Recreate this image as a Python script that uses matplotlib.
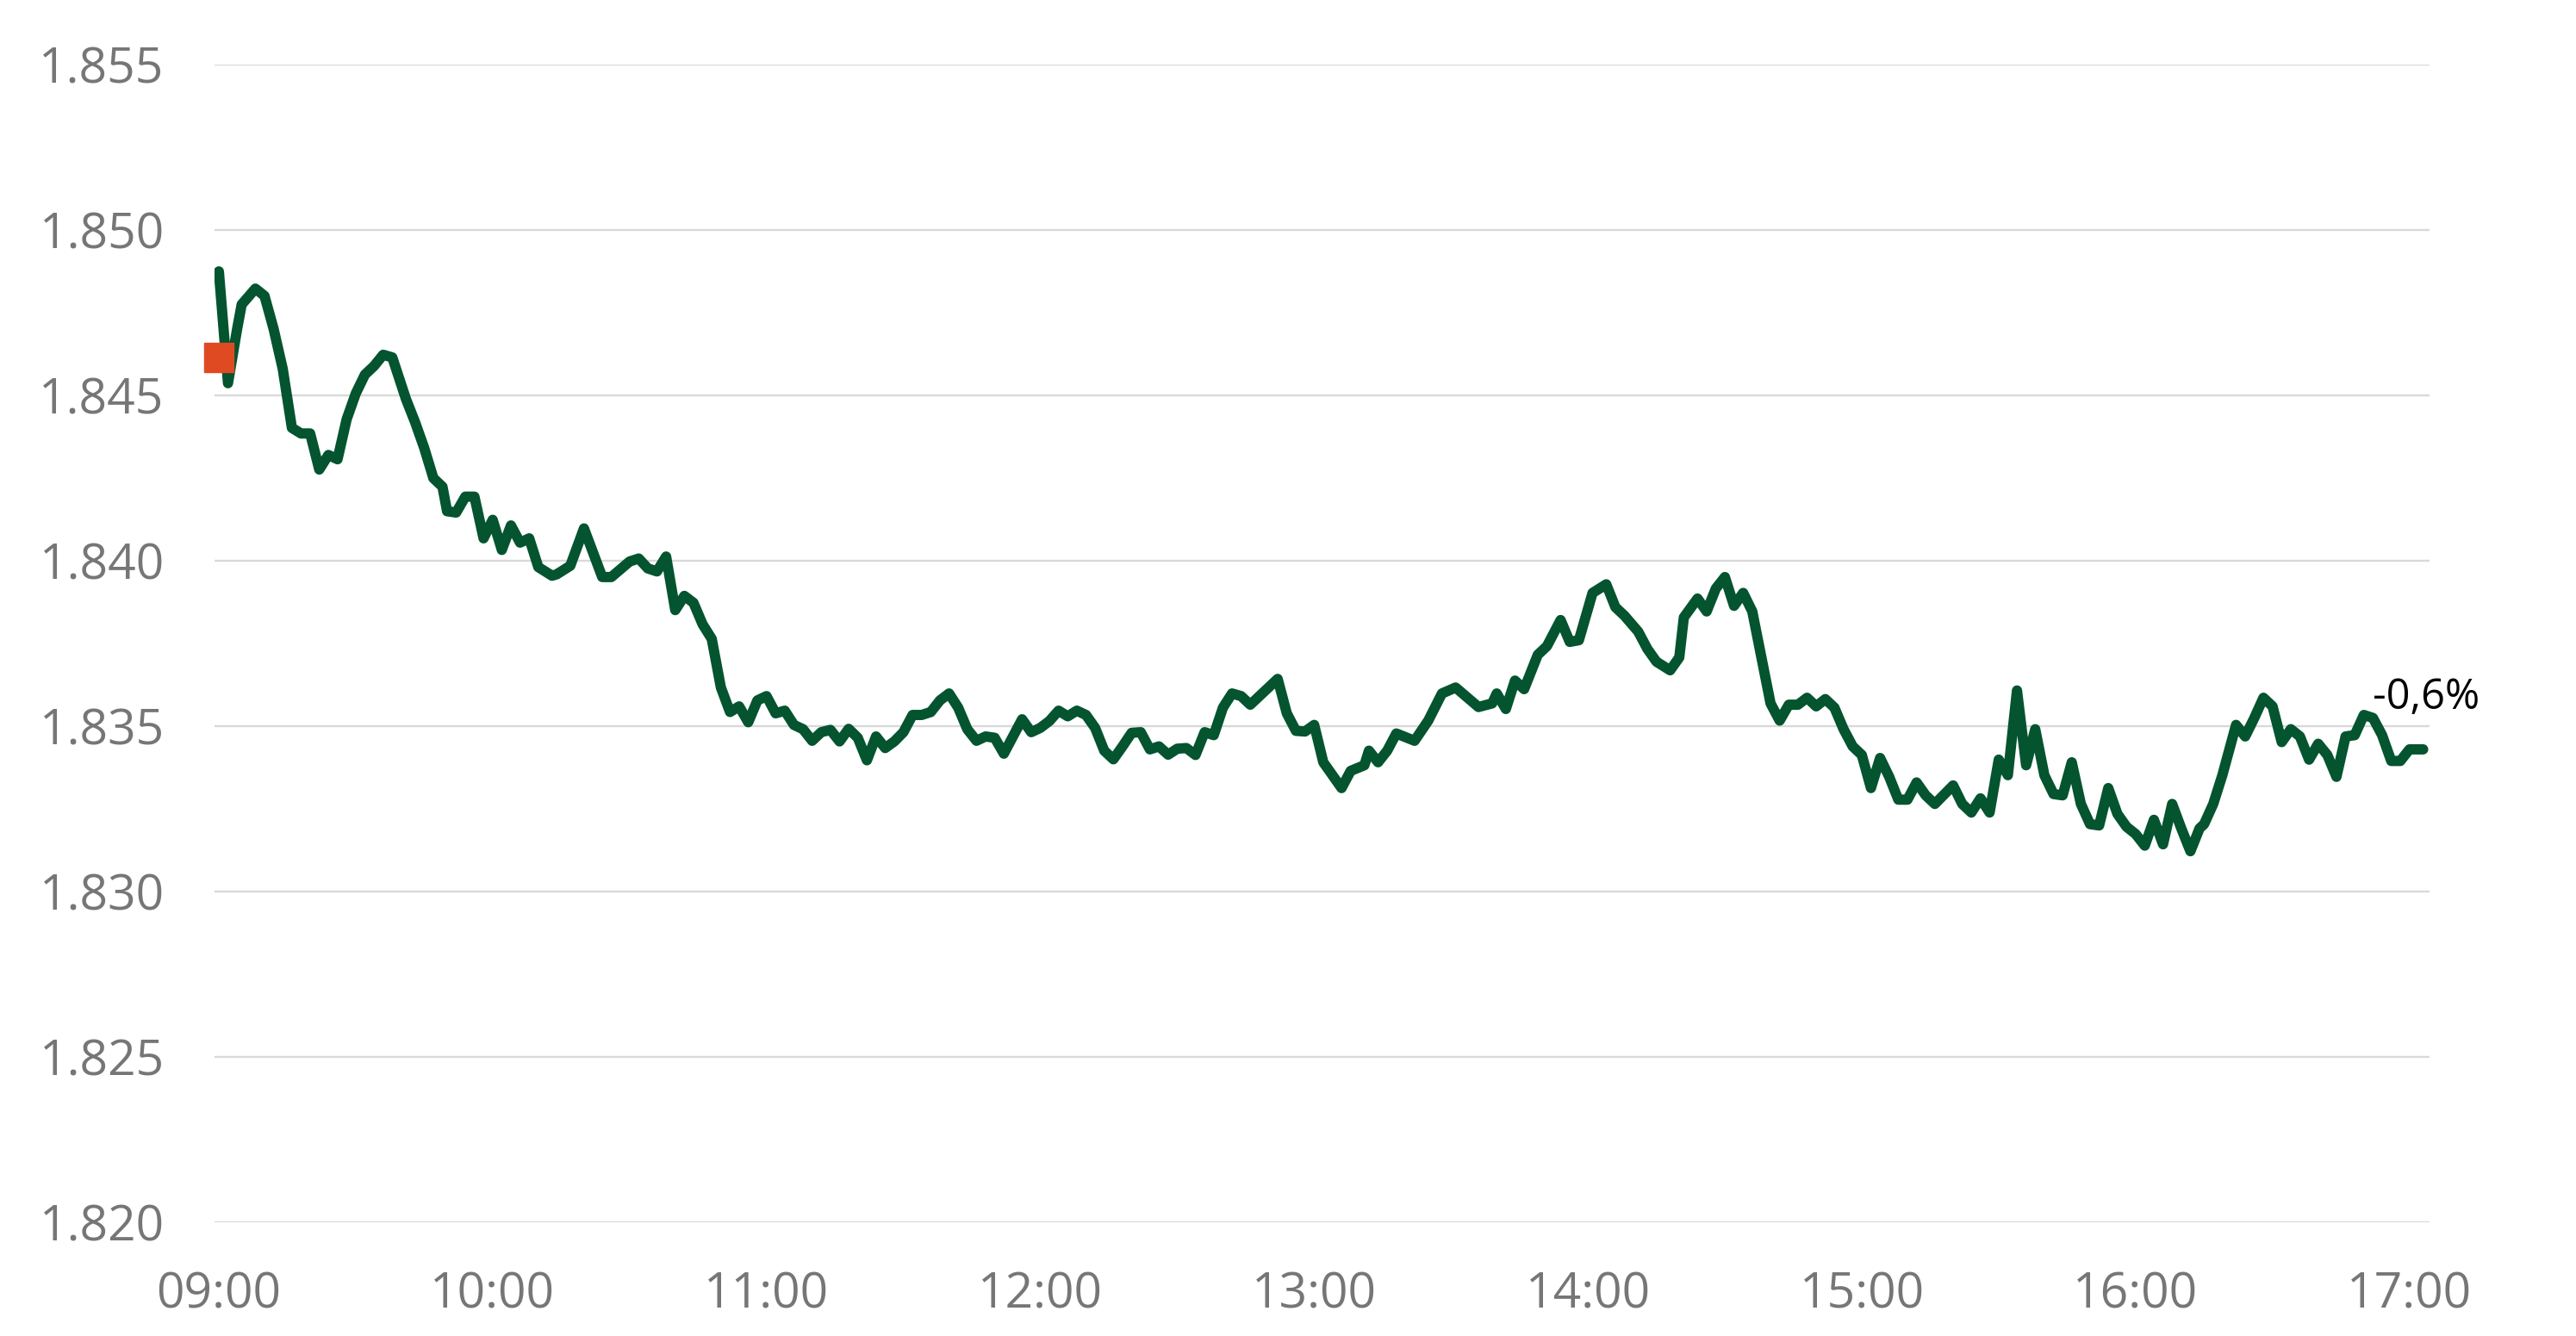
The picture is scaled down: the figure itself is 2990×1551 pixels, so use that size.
import matplotlib
matplotlib.use("Agg")
import matplotlib.pyplot as plt
import matplotlib.dates as mdates
import pandas as pd

# minutes after 09:00 and index level
minutes = [0, 2, 4, 5, 8, 10, 12, 14, 16, 18, 20, 22, 24, 26, 28, 30, 32, 34, 36, 38,
           41, 43, 45, 47, 49, 50, 52, 54, 56, 58, 60, 62, 64, 66, 68, 70, 73, 74, 77, 80,
           84, 86, 90, 92, 94, 96, 98, 100, 102, 104, 106, 108, 110, 112, 114, 116, 118, 120,
           122, 124, 126, 128, 130, 132, 134, 136, 138, 140, 142, 144, 146, 148, 150, 152,
           154, 156, 158, 160, 162, 164, 166, 168, 170, 172, 174, 176, 178, 180, 182, 184,
           186, 188, 190, 192, 194, 196, 198, 200, 202, 204, 206, 208, 210, 212, 214, 216,
           218, 220, 222, 224, 226, 228, 230, 232, 234, 236, 238, 240, 242, 246, 248, 251,
           252, 254, 256, 258, 262, 265, 268, 271, 276, 279, 280, 282, 284, 286, 289, 291,
           294, 296, 298, 301, 304, 306, 308, 311, 313, 315, 318, 320, 321, 324, 326, 328,
           330, 332, 334, 336, 338, 340, 342, 344, 346, 348, 350, 352, 354, 356, 358, 360,
           362, 364, 366, 368, 370, 372, 374, 376, 380, 382, 384, 386, 388, 390, 392, 394,
           396, 398, 400, 402, 404, 406, 408, 410, 412, 414, 416, 418, 420, 422, 424, 426,
           428, 430, 432, 434, 435, 437, 439, 442, 444, 446, 448, 450, 452, 454, 456, 458,
           460, 462, 464, 466, 468, 470, 472, 474, 476, 478, 480, 483]
index = [1.84874, 1.84536, 1.84700, 1.84774, 1.84822, 1.84800, 1.84700, 1.84579, 1.84401, 1.84384,
         1.84384, 1.84275, 1.84319, 1.84306, 1.84427, 1.84505, 1.84562, 1.84588, 1.84622, 1.84614,
         1.84488, 1.84418, 1.84340, 1.84249, 1.84223, 1.84149, 1.84145, 1.84193, 1.84193, 1.84067,
         1.84123, 1.84032, 1.84106, 1.84054, 1.84067, 1.83980, 1.83954, 1.83958, 1.83984, 1.84097,
         1.83950, 1.83950, 1.83997, 1.84006, 1.83976, 1.83967, 1.84012, 1.83850, 1.83893, 1.83872,
         1.83807, 1.83763, 1.83616, 1.83542, 1.83559, 1.83511, 1.83577, 1.83590,
         1.83538, 1.83546, 1.83503, 1.83490, 1.83455, 1.83481, 1.83488, 1.83453, 1.83491, 1.83464,
         1.83396, 1.83468, 1.83433, 1.83453, 1.83481, 1.83533, 1.83533, 1.83542, 1.83577, 1.83598,
         1.83555, 1.83490, 1.83455, 1.83468, 1.83464, 1.83416, 1.83468, 1.83520, 1.83481, 1.83494,
         1.83515, 1.83546, 1.83529, 1.83546, 1.83533, 1.83494, 1.83425, 1.83399, 1.83438, 1.83479,
         1.83481, 1.83429, 1.83438, 1.83413, 1.83431, 1.83433, 1.83412, 1.83481, 1.83472, 1.83555,
         1.83598, 1.83590, 1.83564, 1.83590, 1.83616, 1.83642, 1.83538, 1.83485, 1.83483, 1.83503,
         1.83390, 1.83312, 1.83364, 1.83381, 1.83425, 1.83390, 1.83425, 1.83477, 1.83455, 1.83516,
         1.83598, 1.83616, 1.83557, 1.83568, 1.83598, 1.83551, 1.83637, 1.83611, 1.83715, 1.83741,
         1.83820, 1.83754, 1.83759, 1.83902, 1.83928, 1.83859, 1.83833, 1.83785, 1.83733, 1.83694,
         1.83668, 1.83707, 1.83828, 1.83885, 1.83846, 1.83915, 1.83950, 1.83863, 1.83902, 1.83846,
         1.83707, 1.83568, 1.83516, 1.83564, 1.83564, 1.83585, 1.83559, 1.83581, 1.83555, 1.83490,
         1.83438, 1.83412, 1.83312, 1.83403, 1.83346, 1.83277, 1.83277, 1.83329, 1.83290, 1.83264,
         1.83320, 1.83264, 1.83238, 1.83281, 1.83238, 1.83398, 1.83351, 1.83607, 1.83381, 1.83490,
         1.83351, 1.83294, 1.83290, 1.83390, 1.83264, 1.83203, 1.83199, 1.83312, 1.83234, 1.83195,
         1.83173, 1.83138, 1.83216, 1.83142, 1.83264, 1.83190, 1.83121, 1.83190, 1.83203, 1.83264,
         1.83351, 1.83503, 1.83468, 1.83524, 1.83585, 1.83559, 1.83451, 1.83490, 1.83468, 1.83398,
         1.83446, 1.83412, 1.83346, 1.83468, 1.83472, 1.83533, 1.83524, 1.83472, 1.83394, 1.83394,
         1.83429, 1.83429]

prev_close = 1.84615
change_label = "-0,6%"
y_ticks = [1.820, 1.825, 1.830, 1.835, 1.840, 1.845, 1.850, 1.855]

start = pd.Timestamp("2024-01-02 09:00")
times = start + pd.to_timedelta(minutes, unit="min")

fig = plt.figure(figsize=(29.9, 15.51), dpi=100)
ax = fig.add_axes([0.08328, 0.0853, 0.85987, 0.86654])

ax.plot(times, index, color="#03542f", lw=8.6, solid_capstyle="round",
        solid_joinstyle="round", zorder=3)
# previous close marker
ax.plot([times[0]], [prev_close], marker="s", markersize=24, color="#df4a23",
        linestyle="none", zorder=4, clip_on=False)

ax.annotate(change_label, xy=(times[-1], index[-1]), xytext=(-42, 34),
            textcoords="offset points", ha="left", va="baseline",
            fontsize=35, family="Open Sans", color="black")

ax.set_ylim(1.820, 1.855)
ax.set_yticks(y_ticks)
ax.set_yticklabels([f"{v:.3f}" for v in y_ticks])
ax.set_xlim(start - pd.Timedelta(minutes=0.95), start + pd.Timedelta(minutes=484.4))
ax.xaxis.set_major_locator(mdates.HourLocator())
ax.xaxis.set_major_formatter(mdates.DateFormatter("%H:%M"))

ax.grid(axis="y", color="#d9d9d9", lw=1.7, zorder=0)
ax.grid(axis="x", visible=False)
for s in ax.spines.values():
    s.set_visible(False)
ax.tick_params(axis="y", length=0, pad=42, labelsize=41, labelcolor="#767676")
ax.tick_params(axis="x", length=0, pad=41, labelsize=41, labelcolor="#767676")
for lab in ax.get_xticklabels() + ax.get_yticklabels():
    lab.set_family("Open Sans")

fig.savefig("out.png", dpi=100, facecolor="white")
